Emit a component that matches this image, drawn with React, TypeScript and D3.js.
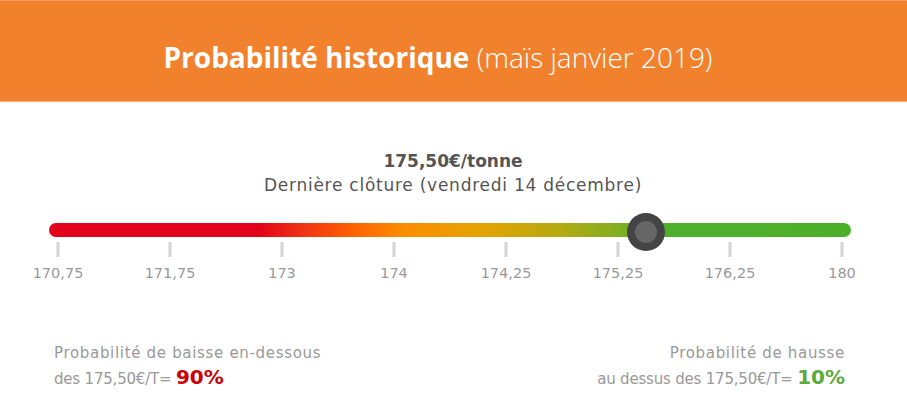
import React from "react";
import * as d3 from "d3";

const tickValues = [170.75, 171.75, 173, 174, 174.25, 175.25, 176.25, 180];
const tickLabels = ["170,75", "171,75", "173", "174", "174,25", "175,25", "176,25", "180"];
const lastClose = 175.5;
const lastCloseLabel = "175,50€/tonne";
const probDown = "90%";
const probUp = "10%";
const gradientStops = [
  { offset: 0, color: "#E2001A" },
  { offset: 0.26, color: "#E2001A" },
  { offset: 0.31, color: "#EE2E14" },
  { offset: 0.385, color: "#FF6600" },
  { offset: 0.44, color: "#FB8D00" },
  { offset: 0.54, color: "#E4A300" },
  { offset: 0.64, color: "#B2AA12" },
  { offset: 0.71, color: "#80AF22" },
  { offset: 0.77, color: "#4EAF2A" },
  { offset: 1, color: "#4CAF2A" },
];

const W = 907;
const H = 412;
const FONT = "'DejaVu Sans', 'Noto Sans', sans-serif";

export default function App() {
  const firstX = 58;
  const step = 112;
  const range = tickValues.map((_, i) => firstX + i * step);
  const x = d3.scaleLinear().domain(tickValues).range(range);
  const barLeft = 49;
  const barRight = 851;
  const barY = 230;
  const barH = 14;
  const knobX = x(lastClose);

  return (
    <svg width={W} height={H} style={{ display: "block", position: "absolute", left: 0, top: 0 }}>
      <defs>
        <linearGradient id="barGrad" x1="0" x2="1" y1="0" y2="0">
          {gradientStops.map((s, i) => (
            <stop key={i} offset={s.offset} stopColor={s.color} />
          ))}
        </linearGradient>
      </defs>
      <rect x={0} y={0} width={W} height={H} fill="#fff" />
      <rect x={0} y={0} width={W} height={102} fill="#F2812E" />
      <rect x={0} y={0} width={W} height={1} fill="#F6A060" />
      <rect x={0} y={101} width={W} height={1} fill="#F7B07A" />
      <text
        x={438}
        y={68}
        textAnchor="middle"
        fill="#fff"
        style={{ fontFamily: "'Open Sans', sans-serif", fontSize: 28 }}
      >
        <tspan fontWeight={700}>Probabilité historique</tspan>
        <tspan fontWeight={300}> (maïs janvier 2019)</tspan>
      </text>

      <text
        x={453}
        y={167}
        textAnchor="middle"
        fill="#555"
        style={{ fontFamily: FONT, fontSize: 17, fontWeight: 700 }}
      >
        {lastCloseLabel}
      </text>
      <text
        x={453}
        y={191}
        textAnchor="middle"
        fill="#555"
        style={{ fontFamily: FONT, fontSize: 17, letterSpacing: 0.75 }}
      >
        Dernière clôture (vendredi 14 décembre)
      </text>

      <rect
        x={barLeft}
        y={barY - barH / 2}
        width={barRight - barLeft}
        height={barH}
        rx={barH / 2}
        fill="url(#barGrad)"
      />

      {tickValues.map((v, i) => (
        <g key={i}>
          <rect x={x(v) - 1.5} y={242} width={3} height={15} fill="#D3D3D3" />
          <text
            x={x(v)}
            y={278}
            textAnchor="middle"
            fill="#999"
            style={{ fontFamily: FONT, fontSize: 14.5 }}
          >
            {tickLabels[i]}
          </text>
        </g>
      ))}

      <circle cx={knobX} cy={232} r={19} fill="#444" />
      <circle cx={knobX} cy={232} r={11} fill="#666" />

      <text x={54} y={358} fill="#999" style={{ fontFamily: FONT, fontSize: 15, letterSpacing: 0.68 }}>
        Probabilité de baisse en-dessous
      </text>
      <text x={54} y={384} fill="#999" style={{ fontFamily: FONT, fontSize: 15, letterSpacing: -0.2 }}>
        des 175,50€/T={" "}
        <tspan fill="#CC0000" fontWeight={700} fontSize={20} letterSpacing={0}>
          {probDown}
        </tspan>
      </text>

      <text x={845} y={358} textAnchor="end" fill="#999" style={{ fontFamily: FONT, fontSize: 15, letterSpacing: 0.68 }}>
        Probabilité de hausse
      </text>
      <text x={845} y={384} textAnchor="end" fill="#999" style={{ fontFamily: FONT, fontSize: 15, letterSpacing: -0.2 }}>
        au dessus des 175,50€/T={" "}
        <tspan fill="#5CAA3C" fontWeight={700} fontSize={20} letterSpacing={0}>
          {probUp}
        </tspan>
      </text>
    </svg>
  );
}
